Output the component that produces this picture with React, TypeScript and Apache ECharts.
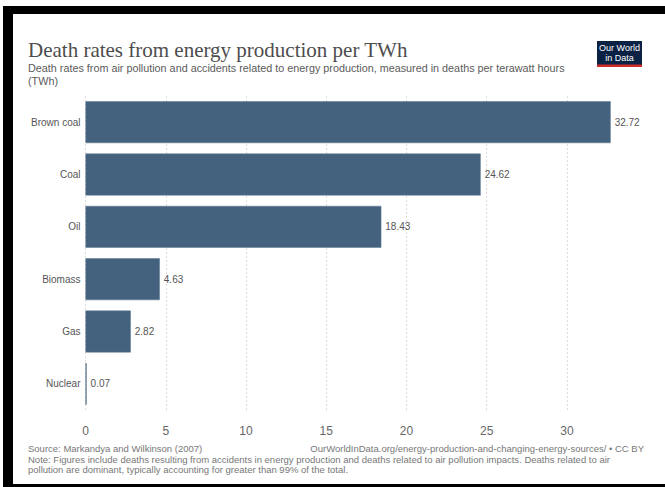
import React, { useEffect, useRef } from "react";
import * as echarts from "echarts";

// Energy sources, top to bottom
const categories: string[] = ["Brown coal", "Coal", "Oil", "Biomass", "Gas", "Nuclear"];
// Deaths per TWh
const deathRates: number[] = [32.72, 24.62, 18.43, 4.63, 2.82, 0.07];
// Horizontal axis tick step
const tickStep = 5;

const titleText = "Death rates from energy production per TWh";
const subtitleLines: string[] = [
  "Death rates from air pollution and accidents related to energy production, measured in deaths per terawatt hours",
  "(TWh)",
];
const sourceText = "Source: Markandya and Wilkinson (2007)";
const creditText = "OurWorldInData.org/energy-production-and-changing-energy-sources/ • CC BY";
const noteLines: string[] = [
  "Note: Figures include deaths resulting from accidents in energy production and deaths related to air pollution impacts. Deaths related to air",
  "pollution are dominant, typically accounting for greater than 99% of the total.",
];
const logoLines: string[] = ["Our World", "in Data"];

const SANS = "'Liberation Sans', Arial, sans-serif";
const SERIF = "'Liberation Serif', 'Times New Roman', serif";

export default function App() {
  const ref = useRef<HTMLDivElement>(null);

  useEffect(() => {
    if (!ref.current) return;
    const chart = echarts.init(ref.current, undefined, { renderer: "svg" });
    const maxValue = Math.max(...deathRates);

    const option: echarts.EChartsOption = {
      animation: false,
      backgroundColor: "#ffffff",
      grid: {
        left: 85.5,
        top: 96,
        width: maxValue * 16.05,
        height: 314,
        containLabel: false,
      },
      xAxis: {
        type: "value",
        min: 0,
        max: maxValue,
        interval: tickStep,
        axisLine: { show: false },
        axisTick: { show: false },
        axisLabel: {
          show: true,
          showMaxLabel: false,
          color: "#666666",
          fontSize: 12,
          fontFamily: SANS,
          margin: 15,
        },
        splitLine: {
          show: true,
          showMaxLine: false,
          lineStyle: { color: "#dddddd", type: [2, 2], width: 1 },
        } as any,
      },
      yAxis: {
        type: "category",
        inverse: true,
        data: categories,
        axisLine: { show: false },
        axisTick: { show: false },
        axisLabel: {
          color: "#555555",
          fontSize: 10,
          fontFamily: SANS,
          margin: 5,
        },
        splitLine: { show: false },
      },
      series: [
        {
          type: "bar",
          data: deathRates,
          barCategoryGap: "20%",
          itemStyle: { color: "#44627e", borderColor: "#5a7690", borderWidth: 0.5 },
          label: {
            show: true,
            position: "right",
            distance: 4,
            color: "#555555",
            fontSize: 10,
            fontFamily: SANS,
            formatter: (p: any) => Number(p.value).toFixed(2),
          },
        },
      ],
      graphic: [
        // black frame around the figure
        { type: "rect", shape: { x: 3, y: 6, width: 662, height: 8 }, style: { fill: "#000000" }, silent: true },
        { type: "rect", shape: { x: 3, y: 6, width: 10, height: 481 }, style: { fill: "#000000" }, silent: true },
        { type: "rect", shape: { x: 3, y: 484, width: 662, height: 3 }, style: { fill: "#000000" }, silent: true },
        // title and subtitle
        {
          type: "text",
          x: 28,
          y: 50,
          style: {
            text: titleText,
            font: `21px ${SERIF}`,
            fill: "#4d4d4d",
            textVerticalAlign: "middle",
          },
        },
        ...subtitleLines.map((line, i) => ({
          type: "text" as const,
          x: 28,
          y: 68 + i * 12.5,
          style: {
            text: line,
            font: `10.8px ${SANS}`,
            fill: "#5b5b5b",
            textVerticalAlign: "middle",
          },
        })),
        // logo
        { type: "rect", shape: { x: 597, y: 41, width: 45, height: 26 }, style: { fill: "#0b2244" } },
        { type: "rect", shape: { x: 597, y: 64.5, width: 45, height: 2.5 }, style: { fill: "#cf2a26" } },
        ...logoLines.map((line, i) => ({
          type: "text" as const,
          x: 619.5,
          y: 48 + i * 9.5,
          style: {
            text: line,
            font: `9px ${SANS}`,
            fill: "#ffffff",
            textAlign: "center",
            textVerticalAlign: "middle",
          },
        })),
        // footer
        {
          type: "text",
          x: 28,
          y: 448.5,
          style: { text: sourceText, font: `9.5px ${SANS}`, fill: "#777777", textVerticalAlign: "middle" },
        },
        {
          type: "text",
          x: 644,
          y: 448.5,
          style: {
            text: creditText,
            font: `9.5px ${SANS}`,
            fill: "#777777",
            textAlign: "right",
            textVerticalAlign: "middle",
          },
        },
        ...noteLines.map((line, i) => ({
          type: "text" as const,
          x: 28,
          y: 459 + i * 10,
          style: { text: line, font: `9.5px ${SANS}`, fill: "#777777", textVerticalAlign: "middle" },
        })),
      ],
    };

    chart.setOption(option);
    return () => chart.dispose();
  }, []);

  return (
    <div
      ref={ref}
      style={{ position: "fixed", left: 0, top: 0, width: 665, height: 487, background: "#ffffff" }}
    />
  );
}
